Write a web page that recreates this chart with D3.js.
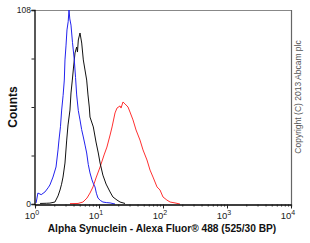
<!DOCTYPE html>
<html><head><meta charset="utf-8">
<script src="https://cdn.jsdelivr.net/npm/d3@7"></script>
<style>
body{margin:0;background:#fff;}
svg{display:block;font-family:"Liberation Sans",Arial,sans-serif;}
</style></head><body>
<svg id="c" width="310" height="243"></svg>
<script>
const xDomain = [1, 10000];
const yDomain = [0, 108];
const xMajorTicks = [1, 10, 100, 1000, 10000];
const xTickExponents = ["0", "1", "2", "3", "4"];
const yTicks = [0, 27, 54, 81, 108];
const yTickLabels = ["0", "", "", "", "108"];
const xLabel = "Alpha Synuclein - Alexa Fluor\u00AE 488 (525/30 BP)";
const yLabel = "Counts";
const copyright = "Copyright (C) 2013 Abcam plc";

const blueX = [1.04,1.11,1.25,1.43,1.6,1.71,1.91,2.13,2.29,2.37,2.5,2.61,2.75,2.87,2.94,3.05,3.16,3.3,3.4,3.5,3.65,3.85,4.11,4.3,4.48,4.75,5.05,5.35,5.69,6.05,6.42,6.8,7.23,7.77,8.2,8.66,9.1,9.64,10.5,11.5,13,14.9,17.8];
const blueY = [0.6,6.1,5.2,6.7,9.0,10.6,15.0,20.6,30.1,35.6,43.0,52.3,60.5,69.0,80.2,88.0,96.9,101.5,108,103.0,99.6,90.0,80.2,70.5,60.7,52.0,46.8,41.5,37.3,32.8,28.4,22.0,17.3,13.4,11.2,9.5,6.0,3.3,2.0,1.1,0.8,0.6,0];

const blackX = [1.2,1.5,1.71,2.05,2.29,2.46,2.6,2.74,2.94,3.13,3.28,3.52,3.65,3.83,3.99,4.22,4.48,4.61,4.75,5.05,5.37,5.69,6.04,6.42,6.73,7.05,7.23,8.15,8.98,9.75,10.4,11.5,12.9,14.9,16.5,19.1,21.3,25.5];
const blackY = [0.3,0.4,0.5,1.1,4.5,7.8,11.0,15.0,22.8,35.6,44.0,52.3,61.8,69.0,75.7,84.1,87.4,84.6,91.3,95.2,89.6,80.2,74.6,69.0,60.7,54.0,48.4,42.9,34.5,28.4,22.8,16.1,11.1,6.7,3.9,2.2,1.1,0.3];

const redX = [3.52,4.7,5.62,6.49,7.23,8.06,8.98,10.4,12.0,13.3,14.9,16.0,17.8,19.1,21.3,22.1,23.7,25.5,28.4,30.5,34.0,37.9,43.7,48.7,56.2,62.7,69.8,80.6,89.8,100,115,129,154,184];
const redY = [0.2,0.3,1.1,3.3,6.1,9.5,14.5,20.6,27.3,31.7,38.4,42.9,50.7,53.4,54.6,53.4,56.8,55.7,54.0,51.2,46.8,41.2,35.6,30.1,24.5,18.9,15.0,9.5,7.8,3.9,2.2,1.1,0.6,0];

const svg = d3.select("#c");
const L = 35, R = 291, T = 10, B = 204;
const x = d3.scaleLog().domain(xDomain).range([L, R]);
const y = d3.scaleLinear().domain(yDomain).range([B, T]);

svg.append("line").attr("x1", L).attr("x2", R).attr("y1", T + 0.5).attr("y2", T + 0.5).attr("stroke", "#888").attr("stroke-width", 1.2);
svg.append("line").attr("x1", R + 0.5).attr("x2", R + 0.5).attr("y1", T).attr("y2", B).attr("stroke", "#666").attr("stroke-width", 1.2);

const line = d3.line().x(d => x(d[0])).y(d => y(d[1]));
function draw(xs, ys, color) {
  svg.append("path").datum(xs.map((v, i) => [v, ys[i]]))
    .attr("fill", "none").attr("stroke", color).attr("stroke-width", 1).attr("d", line);
}
draw(redX, redY, "#ff3030");
draw(blackX, blackY, "#111");
draw(blueX, blueY, "#2222ee");

const xAxis = d3.axisBottom(x).tickValues(x.ticks()).tickSize(2).tickFormat("");
const gx = svg.append("g").attr("transform", `translate(0,${B + 0.5})`).call(xAxis);
gx.selectAll(".tick line").filter(d => xMajorTicks.includes(d)).attr("y2", 4);
gx.select(".domain").attr("stroke", "#000").attr("stroke-width", 1.3);
gx.selectAll(".tick line").attr("stroke", "#222");
xMajorTicks.forEach((v, i) => {
  const t = svg.append("text").attr("x", x(v) - 3).attr("y", 219).attr("text-anchor", "middle")
    .attr("font-size", 9.5).attr("fill", "#222");
  t.append("tspan").text("10");
  t.append("tspan").attr("dy", -4).attr("font-size", 7).text(xTickExponents[i]);
});

const yAxis = d3.axisLeft(y).tickValues(yTicks).tickSize(3).tickFormat("");
const gy = svg.append("g").attr("transform", `translate(${L - 0.5},0)`).call(yAxis);
gy.select(".domain").attr("stroke", "#000").attr("stroke-width", 1.3);
gy.selectAll(".tick line").attr("stroke", "#222");
yTicks.forEach((v, i) => {
  if (!yTickLabels[i]) return;
  svg.append("text").attr("x", L - 4).attr("y", y(v) + 3).attr("text-anchor", "end")
    .attr("font-size", 8.5).attr("fill", "#222").text(yTickLabels[i]);
});

svg.append("text").attr("x", 162).attr("y", 232).attr("text-anchor", "middle")
  .attr("font-size", 10.2).attr("font-weight", "bold").attr("fill", "#111").text(xLabel);
svg.append("text").attr("transform", "translate(17,107) rotate(-90)").attr("text-anchor", "middle")
  .attr("font-size", 12).attr("font-weight", "bold").attr("fill", "#111").text(yLabel);
svg.append("text").attr("transform", "translate(301,97) rotate(-90)").attr("text-anchor", "middle")
  .attr("font-size", 8.5).attr("fill", "#555").text(copyright);
</script>
</body></html>
